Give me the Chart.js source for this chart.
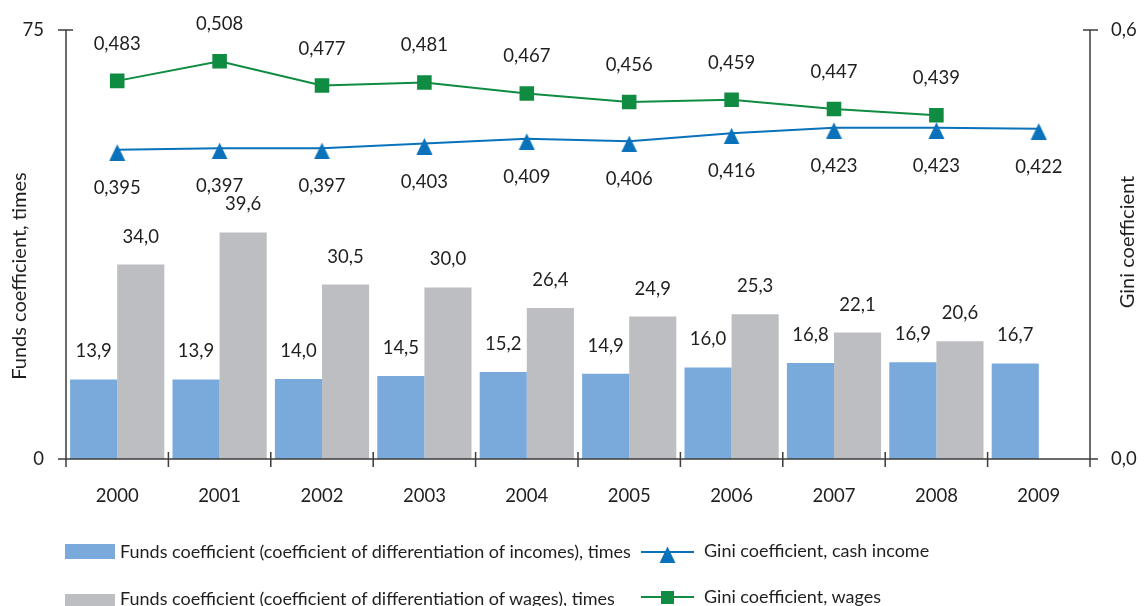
<!DOCTYPE html>
<html>
<head>
<meta charset="utf-8">
<title>Funds and Gini coefficients, 2000-2009</title>
<script src="https://cdn.jsdelivr.net/npm/chart.js@4.4.1/dist/chart.umd.min.js"></script>
<style>
  body { margin: 0; background: #fff; }
  #wrap { position: relative; width: 1145px; height: 606px; overflow: hidden; font-family: Lato, sans-serif; color: #1f1f1f; }
  #chart { position: absolute; left: 0; top: 0; }
  .leg { position: absolute; font-size: 18px; line-height: 18px; white-space: nowrap; }
</style>
</head>
<body>
<div id="wrap">
  <canvas id="chart" width="1145" height="606"></canvas>
  <div id="legend"></div>
</div>
<script>
const years = ['2000', '2001', '2002', '2003', '2004', '2005', '2006', '2007', '2008', '2009'];
const fundsIncomes = [13.9, 13.9, 14.0, 14.5, 15.2, 14.9, 16.0, 16.8, 16.9, 16.7];
const fundsWages = [34.0, 39.6, 30.5, 30.0, 26.4, 24.9, 25.3, 22.1, 20.6, null];
const giniCash = [0.395, 0.397, 0.397, 0.403, 0.409, 0.406, 0.416, 0.423, 0.423, 0.422];
const giniWages = [0.483, 0.508, 0.477, 0.481, 0.467, 0.456, 0.459, 0.447, 0.439, null];
const leftTicks = [0, 75];
const rightTicks = [0, 0.548];

const blueBar = '#7aaadb';
const grayBar = '#bdbec2';
const cashColor = '#0a72bb';
const wagesColor = '#0f8c41';
const textColor = '#1f1f1f';
const axisColor = '#3c3c3c';
const font = 'Lato, sans-serif';

const comma = (v, d) => v.toFixed(d).replace('.', ',');

// triangle marker that sits a little below the line
function triangleMarker(w, h, apex) {
  const c = document.createElement('canvas');
  c.width = w; c.height = h;
  const g = c.getContext('2d');
  g.fillStyle = cashColor;
  g.beginPath();
  g.moveTo(w / 2, apex);
  g.lineTo(w - 0.5, h);
  g.lineTo(0.5, h);
  g.closePath();
  g.fill();
  return c;
}
const triImg = triangleMarker(17, 22, 5.4);

// axes drawn by hand so the ticks cross the lines
const axesPlugin = {
  id: 'axes',
  afterDatasetsDraw(chart) {
    const { ctx, chartArea: a, scales } = chart;
    ctx.save();
    ctx.strokeStyle = axisColor;
    ctx.lineWidth = 1.5;
    ctx.beginPath();
    ctx.moveTo(a.left, a.top); ctx.lineTo(a.left, a.bottom);
    ctx.moveTo(a.right, a.top); ctx.lineTo(a.right, a.bottom);
    ctx.moveTo(a.left, a.bottom); ctx.lineTo(a.right, a.bottom);
    leftTicks.forEach(v => {
      const y = scales.y.getPixelForValue(v);
      ctx.moveTo(a.left - 8, y); ctx.lineTo(a.left + 7, y);
    });
    rightTicks.forEach(v => {
      const y = scales.y1.getPixelForValue(v);
      ctx.moveTo(a.right - 7, y); ctx.lineTo(a.right + 8, y);
    });
    for (let i = 0; i <= years.length; i++) {
      const x = scales.x.getPixelForValue(i - 0.5);
      ctx.moveTo(x, a.bottom - 7); ctx.lineTo(x, a.bottom + 8);
    }
    ctx.stroke();
    ctx.restore();
  }
};

// value labels over bars and around line points
const valueLabels = {
  id: 'valueLabels',
  afterDraw(chart) {
    const { ctx } = chart;
    ctx.save();
    ctx.font = '18.5px ' + font;
    ctx.fillStyle = textColor;
    ctx.textAlign = 'center';
    ctx.textBaseline = 'alphabetic';
    chart.data.datasets.forEach((ds, di) => {
      const meta = chart.getDatasetMeta(di);
      meta.data.forEach((el, i) => {
        const v = ds.data[i];
        if (v == null) return;
        if (ds.type === 'line') {
          const y = ds.labelPos === 'above' ? el.y - 31 : el.y + 44;
          ctx.fillText(comma(v, 3), el.x, y);
        } else {
          ctx.fillText(comma(v, 1), el.x, el.y - 22);
        }
      });
    });

    // axis titles, reading bottom to top
    ctx.font = '20px ' + font;
    const titles = [
      { text: 'Funds coefficient, times', x: 18.5, y: 276 },
      { text: 'Gini coefficient', x: 1127, y: 242 }
    ];
    titles.forEach(t => {
      ctx.save();
      ctx.translate(t.x, t.y);
      ctx.rotate(-Math.PI / 2);
      ctx.fillText(t.text, 0, 7);
      ctx.restore();
    });
    ctx.restore();
  }
};

const chart = new Chart(document.getElementById('chart'), {
  type: 'bar',
  data: {
    labels: years,
    datasets: [
      {
        label: 'Funds coefficient (coefficient of differentiation of incomes), times',
        data: fundsIncomes, backgroundColor: blueBar, yAxisID: 'y', order: 1,
        categoryPercentage: 0.92, barPercentage: 1
      },
      {
        label: 'Funds coefficient (coefficient of differentiation of wages), times',
        data: fundsWages, backgroundColor: grayBar, yAxisID: 'y', order: 1,
        categoryPercentage: 0.92, barPercentage: 1
      },
      {
        type: 'line', label: 'Gini coefficient, cash income', data: giniCash, yAxisID: 'y1', order: 0,
        borderColor: cashColor, backgroundColor: cashColor, borderWidth: 2,
        pointStyle: triImg, pointRadius: 9, labelPos: 'below'
      },
      {
        type: 'line', label: 'Gini coefficient, wages', data: giniWages, yAxisID: 'y1', order: 0,
        borderColor: wagesColor, backgroundColor: wagesColor, borderWidth: 2,
        pointStyle: 'rect', pointRadius: 10.3, pointBorderWidth: 0, labelPos: 'above'
      }
    ]
  },
  options: {
    responsive: false,
    animation: false,
    layout: { padding: { top: 30, left: 0, right: 0, bottom: 0 } },
    plugins: { legend: { display: false }, tooltip: { enabled: false } },
    scales: {
      x: {
        grid: { display: false }, border: { display: false },
        ticks: { color: textColor, font: { family: font, size: 18.5 }, padding: 18 },
        afterFit: s => { s.height = 147; }
      },
      y: {
        position: 'left', min: 0, max: 75,
        grid: { display: false }, border: { display: false },
        afterBuildTicks: s => { s.ticks = leftTicks.map(v => ({ value: v })); },
        ticks: { color: textColor, font: { family: font, size: 18.5 }, padding: 14 },
        afterFit: s => { s.width = 66; }
      },
      y1: {
        position: 'right', min: 0, max: 0.548,
        grid: { display: false }, border: { display: false },
        afterBuildTicks: s => { s.ticks = rightTicks.map(v => ({ value: v })); },
        ticks: {
          color: textColor, font: { family: font, size: 18.5 }, padding: 13,
          // one decimal, rounded up
          callback: v => comma(Math.ceil(v * 10 - 1e-9) / 10, 1)
        },
        afterFit: s => { s.width = 55; }
      }
    }
  },
  plugins: [axesPlugin, valueLabels]
});

// legend in two columns under the plot
const legendSpots = [
  { ds: 0, left: 65, top: 544, textLeft: 120, textTop: 542 },
  { ds: 1, left: 65, top: 594, textLeft: 120, textTop: 589 },
  { ds: 2, left: 641, top: 552, textLeft: 704, textTop: 541 },
  { ds: 3, left: 641, top: 597, textLeft: 704, textTop: 587 }
];
const legend = document.getElementById('legend');
legendSpots.forEach(spot => {
  const ds = chart.data.datasets[spot.ds];
  const icon = document.createElement('canvas');
  const g = icon.getContext('2d');
  if (ds.type === 'line') {
    icon.width = 53; icon.height = 24;
    icon.style.left = spot.left + 'px';
    icon.style.top = (spot.top - 12) + 'px';
    g.strokeStyle = ds.borderColor; g.lineWidth = 2;
    g.beginPath(); g.moveTo(0, 12); g.lineTo(53, 12); g.stroke();
    g.fillStyle = ds.borderColor;
    if (ds.pointStyle === 'rect') {
      g.fillRect(20, 6, 13, 13);
    } else {
      g.drawImage(triImg, 18, 1);
    }
  } else {
    icon.width = 50; icon.height = 15;
    icon.style.left = spot.left + 'px';
    icon.style.top = spot.top + 'px';
    g.fillStyle = ds.backgroundColor;
    g.fillRect(0, 0, 50, 15);
  }
  icon.style.position = 'absolute';
  legend.appendChild(icon);

  const t = document.createElement('div');
  t.className = 'leg';
  t.style.left = spot.textLeft + 'px';
  t.style.top = spot.textTop + 'px';
  t.textContent = ds.label;
  legend.appendChild(t);
});
</script>
</body>
</html>
